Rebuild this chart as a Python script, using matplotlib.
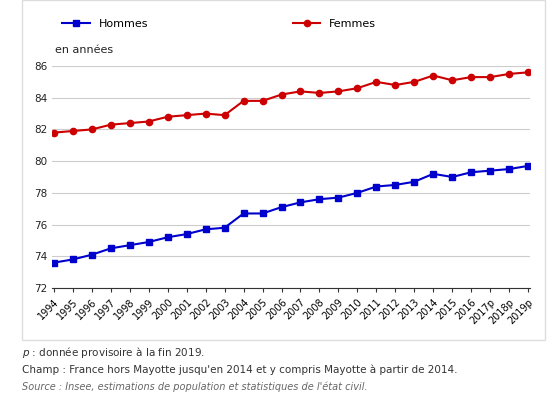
import matplotlib.pyplot as plt
from matplotlib.patches import Rectangle

years = ['1994','1995','1996','1997','1998','1999','2000','2001','2002','2003','2004','2005','2006',
         '2007','2008','2009','2010','2011','2012','2013','2014','2015','2016','2017p','2018p','2019p']
hommes = [73.6,73.8,74.1,74.5,74.7,74.9,75.2,75.4,75.7,75.8,76.7,76.7,77.1,77.4,77.6,77.7,78.0,78.4,78.5,78.7,79.2,79.0,79.3,79.4,79.5,79.7]
femmes = [81.8,81.9,82.0,82.3,82.4,82.5,82.8,82.9,83.0,82.9,83.8,83.8,84.2,84.4,84.3,84.4,84.6,85.0,84.8,85.0,85.4,85.1,85.3,85.3,85.5,85.6]

W, H = 557, 400
fig = plt.figure(figsize=(W/100, H/100), dpi=100)
fig.patches.append(Rectangle((22/W, 60/H), 523/W, 1-60/H, transform=fig.transFigure,
                             fill=False, edgecolor='#dddddd', lw=1))
ax = fig.add_axes([52/W, 1-288/H, 478/W, 222/H])
x = range(len(years))
ax.plot(x, hommes, color='#0000cc', marker='s', ms=4, lw=1.5, label='Hommes')
ax.plot(x, femmes, color='#cc0000', marker='o', ms=4.5, lw=1.5, label='Femmes')
ax.set_ylim(72, 86)
ax.set_yticks(range(72, 87, 2))
ax.set_xlim(-0.1, len(years)-0.9)
ax.set_xticks(list(x))
ax.set_xticklabels(years, rotation=45, ha='right', rotation_mode='anchor', fontsize=7)
ax.tick_params(axis='y', labelsize=7.5, length=0, colors='#222222')
ax.tick_params(axis='x', length=3, color='#333333')
ax.grid(axis='y', color='#cccccc', lw=0.8)
ax.set_axisbelow(True)
for s in ['top', 'right', 'left']:
    ax.spines[s].set_visible(False)
ax.spines['bottom'].set_color('#333333')
fig.text(55/W, 1-50/H, 'en années', fontsize=8, va='center', color='#222222')
ax.legend(loc='lower left', bbox_to_anchor=(0, 1.12), ncol=2, frameon=False, fontsize=8,
          handlelength=2.5, columnspacing=13)
fig.text(22/W, 1-353/H, r'$\it{p}$ : donnée provisoire à la fin 2019.', fontsize=7.5, va='center', color='#333333')
fig.text(22/W, 1-370/H, "Champ : France hors Mayotte jusqu'en 2014 et y compris Mayotte à partir de 2014.",
         fontsize=7.5, va='center', color='#333333')
fig.text(22/W, 1-387/H, "Source : Insee, estimations de population et statistiques de l'état civil.",
         fontsize=7, va='center', color='#666666', style='italic')
fig.savefig('out.png', dpi=100)
